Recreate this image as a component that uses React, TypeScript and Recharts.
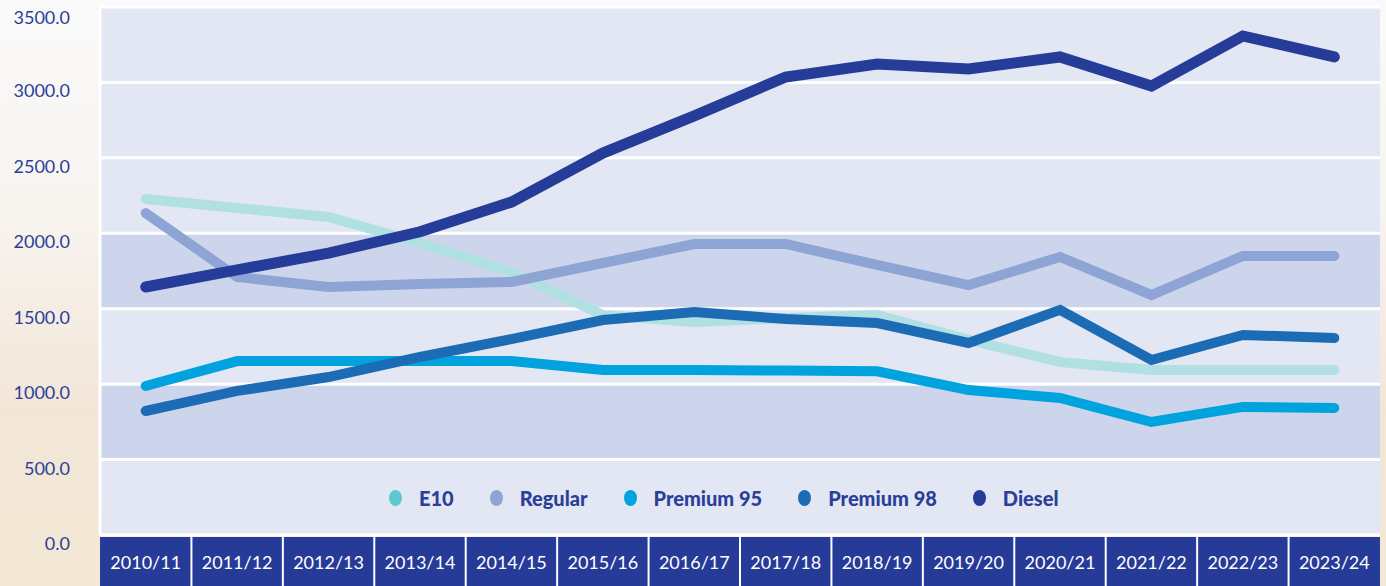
import { LineChart, Line, XAxis, YAxis, CartesianGrid } from 'recharts'

const periods = ['2010/11', '2011/12', '2012/13', '2013/14', '2014/15', '2015/16', '2016/17', '2017/18', '2018/19', '2019/20', '2020/21', '2021/22', '2022/23', '2023/24']
const e10 = [2227, 2168, 2108, 1936, 1743, 1458, 1412, 1438, 1458, 1293, 1147, 1094, 1094, 1094]
const regular = [2134, 1710, 1644, 1664, 1677, 1803, 1929, 1929, 1790, 1657, 1843, 1591, 1850, 1850]
const premium95 = [988, 1153, 1153, 1153, 1153, 1094, 1094, 1090, 1085, 961, 908, 749, 849, 842]
const premium98 = [822, 955, 1047, 1180, 1299, 1425, 1478, 1432, 1405, 1273, 1492, 1160, 1326, 1306]
const diesel = [1644, 1757, 1869, 2010, 2207, 2532, 2778, 3036, 3122, 3089, 3169, 2976, 3308, 3169]
const yTicks = [0, 500, 1000, 1500, 2000, 2500, 3000, 3500]

const series = [
  { key: 'e10', name: 'E10', color: '#b1e0e3', dot: '#5ec8cf' },
  { key: 'regular', name: 'Regular', color: '#8ea4d4', dot: '#8ea4d4' },
  { key: 'premium95', name: 'Premium 95', color: '#00a3de', dot: '#00a3de' },
  { key: 'premium98', name: 'Premium 98', color: '#1c6cb5', dot: '#1c6cb5' },
  { key: 'diesel', name: 'Diesel', color: '#263c99', dot: '#263c99' },
]

const data = periods.map((period, i) => ({
  period,
  e10: e10[i],
  regular: regular[i],
  premium95: premium95[i],
  premium98: premium98[i],
  diesel: diesel[i],
}))

const FONT = 'Lato, "Open Sans", sans-serif'
const TEXT = '#2b3f98'
const LIGHT = '#e3e7f4'
const DARK = '#cdd5ec'
const PLOT_W = 1280
const BAND = PLOT_W / periods.length

function YTick({ y, payload }: any) {
  return (
    <text x={70} y={y + 8} textAnchor="end" dominantBaseline="central" fill={TEXT} fontSize={18} fontWeight={400} fontFamily={FONT}>
      {Number(payload.value).toFixed(1)}
    </text>
  )
}

function CellTick({ x, y, payload, index }: any) {
  return (
    <g>
      <rect x={x - BAND / 2} y={y} width={BAND} height={50} fill="#263b97" />
      {index > 0 && <line x1={x - BAND / 2} x2={x - BAND / 2} y1={y} y2={y + 50} stroke="#fff" strokeWidth={2} />}
      <text x={x} y={y + 25} textAnchor="middle" dominantBaseline="central" fill="#fff" fontSize={18} fontWeight={400} fontFamily={FONT}>
        {payload.value}
      </text>
    </g>
  )
}

function ChartLegend() {
  return (
    <div style={{ position: 'absolute', left: 389, top: 486, display: 'flex', alignItems: 'center', fontFamily: FONT, fontWeight: 900, fontSize: 20, color: TEXT }}>
      {series.map(s => (
        <div key={s.key} style={{ display: 'flex', alignItems: 'center', marginRight: 36 }}>
          <span style={{ display: 'inline-block', width: 13, height: 16, borderRadius: '50%', background: s.dot, marginRight: 17 }} />
          <span>{s.name}</span>
        </div>
      ))}
    </div>
  )
}

export default function App() {
  return (
    <div style={{ width: 1386, height: 586, position: 'relative', background: 'linear-gradient(to bottom, #fafafa 0%, #f8f4f0 35%, #f2e6d8 70%, #f3e8d4 100%)' }}>
      <style>{'body{margin:0}'}</style>
      <LineChart width={1386} height={586} data={data} margin={{ top: 7, right: 6, left: 0, bottom: 0 }}>
        <CartesianGrid
          vertical={false}
          stroke="#ffffff"
          strokeWidth={3}
          fill={LIGHT}
          fillOpacity={1}
          horizontalFill={[LIGHT, LIGHT, LIGHT, DARK, LIGHT, DARK, LIGHT]}
        />
        <XAxis
          dataKey="period"
          height={51}
          interval={0}
          tickLine={false}
          axisLine={false}
          tickSize={0}
          tickMargin={2}
          padding={{ left: BAND / 2, right: BAND / 2 }}
          tick={<CellTick />}
        />
        <YAxis
          width={100}
          domain={[0, 3500]}
          ticks={yTicks}
          tickLine={false}
          axisLine={{ stroke: '#ffffff', strokeWidth: 3 }}
          tick={<YTick />}
        />
        {series.map(s => (
          <Line
            key={s.key}
            dataKey={s.key}
            name={s.name}
            stroke={s.color}
            strokeWidth={s.key === 'diesel' ? 11 : 10}
            strokeLinecap="round"
            strokeLinejoin="miter"
            dot={false}
            activeDot={false}
            isAnimationActive={false}
          />
        ))}
      </LineChart>
      <ChartLegend />
    </div>
  )
}
